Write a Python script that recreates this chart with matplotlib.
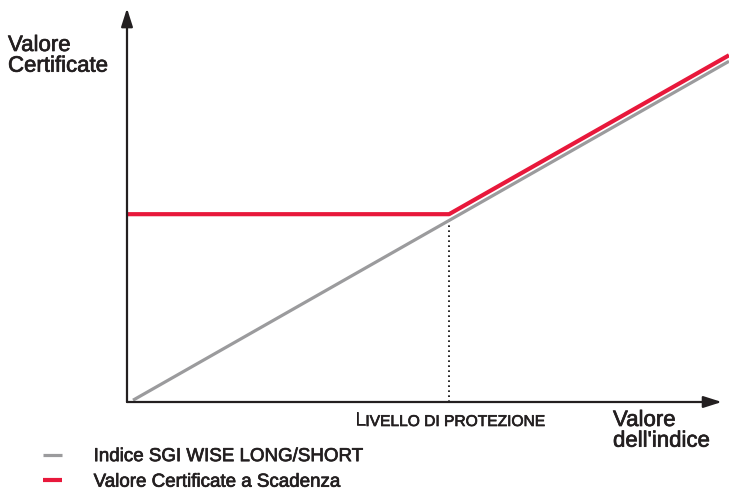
import matplotlib.pyplot as plt
import matplotlib.patheffects as pe

# Dati del grafico (unità arbitrarie)
indice_x = [1.0, 100.0]
indice_y = [0.3, 56.6]
certificato_x = [0.0, 53.5, 100.0]
certificato_y = [31.2, 31.2, 57.6]
livello_protezione = 53.5

etichette = ["Indice SGI WISE LONG/SHORT", "Valore Certificate a Scadenza"]
colore_grigio = "#9b9b9d"
colore_rosso = "#e8183b"
colore_assi = "#231f20"

plt.rcParams['font.family'] = ['Liberation Sans', 'DejaVu Sans']
spessore = [pe.withStroke(linewidth=0.5, foreground=colore_assi)]

fig = plt.figure(figsize=(7.29, 4.93), dpi=100)
ax = fig.add_axes([127 / 729, 91 / 493, 602 / 729, 402 / 493])
ax.set_xlim(0, 100)
ax.set_ylim(0, 66.78)
ax.axis('off')

# Assi con frecce
freccia = dict(arrowstyle='-|>,head_length=1.1,head_width=0.35', color=colore_assi,
               lw=1.6, shrinkA=0, shrinkB=0)
ax.annotate('', xy=(98.8, 0), xytext=(0, 0), arrowprops=freccia, annotation_clip=False)
ax.annotate('', xy=(0, 65.4), xytext=(0, 0), arrowprops=freccia, annotation_clip=False)

# Linea tratteggiata al livello di protezione
y_kink = indice_y[0] + (livello_protezione - indice_x[0]) / (indice_x[1] - indice_x[0]) * (indice_y[1] - indice_y[0])
ax.plot([livello_protezione, livello_protezione], [0, y_kink], color='black', lw=1.2,
        linestyle=(0, (1, 2)), clip_on=False)

l1, = ax.plot(indice_x, indice_y, color=colore_grigio, lw=2.3, clip_on=False, solid_capstyle='butt')
l2, = ax.plot(certificato_x, certificato_y, color=colore_rosso, lw=3.0, clip_on=False, solid_capstyle='butt')

# Testi
stile = dict(fontsize=16, color=colore_assi, linespacing=0.98, path_effects=spessore)
fig.text(8 / 729, 1 - 35 / 493, "Valore\nCertificate", ha='left', va='top', **stile)
fig.text(613 / 729, 1 - 410 / 493, "Valore\ndell'indice", ha='left', va='top', **stile)

t1 = fig.text(355 / 729, 1 - 425 / 493, "L", ha='left', va='baseline', fontsize=13.5,
              color=colore_assi, path_effects=spessore)
ax.annotate("IVELLO DI PROTEZIONE", xy=(1, 0), xycoords=t1, ha='left', va='bottom',
            fontsize=11.2, color=colore_assi, annotation_clip=False, path_effects=spessore)

leg = fig.legend([l1, l2], etichette, loc='upper left', bbox_to_anchor=(43 / 729, 1 - 448 / 493),
                 frameon=False, borderpad=0, borderaxespad=0, handlelength=1.0, handletextpad=1.7,
                 labelspacing=0.45, prop=dict(family='Liberation Sans', size=13.5))
for t in leg.get_texts():
    t.set_color(colore_assi)
    t.set_path_effects(spessore)

fig.savefig('out.png', dpi=100)
